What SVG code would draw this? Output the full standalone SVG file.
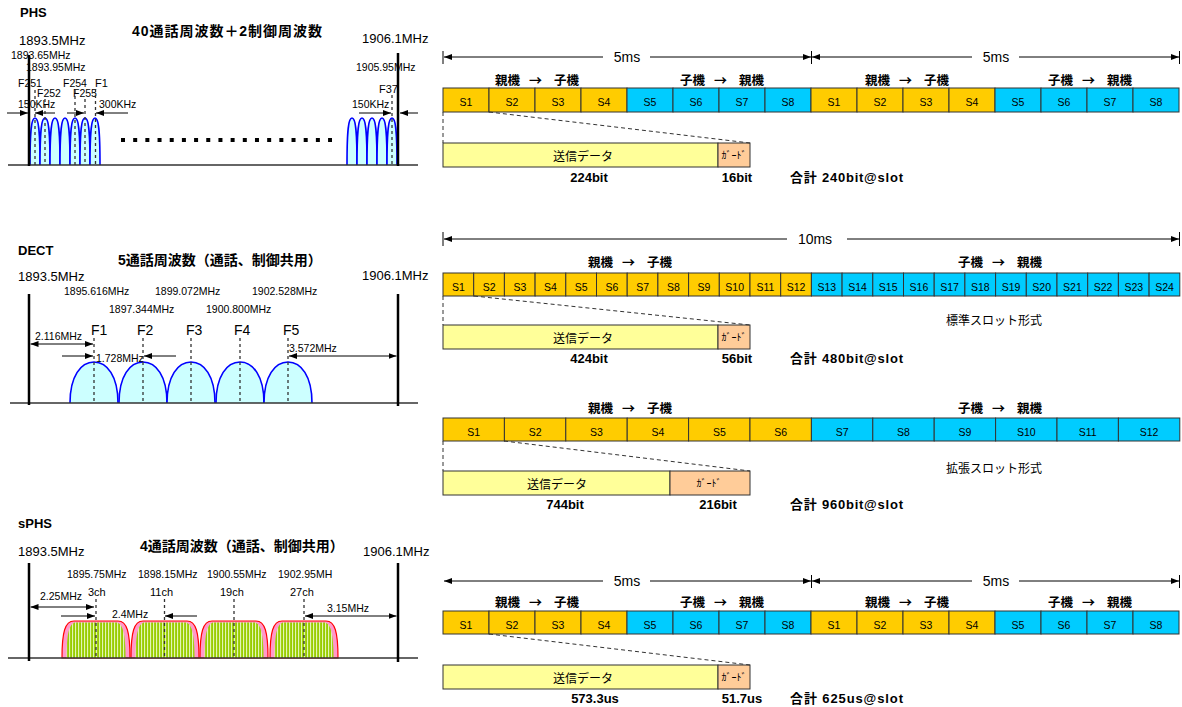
<svg xmlns="http://www.w3.org/2000/svg" width="1182" height="707" viewBox="0 0 1182 707">
<style>
text { font-family: "Liberation Sans", "Noto Sans CJK JP", sans-serif; fill: #000; }
.b { font-weight: bold; }
.mid { text-anchor: middle; }
.t14 { font-size: 14px; }
.t13 { font-size: 13px; }
.t12 { font-size: 12px; }
.sm { font-size: 10.5px; }
.fl { font-size: 11px; }
.fs { font-size: 10.5px; }
.slot { font-size: 10.5px; text-anchor: middle; }
.dir { font-size: 12.5px; font-weight: bold; }
.arr { font-family: "Noto Sans CJK JP", sans-serif; font-size: 13px; }
.bits { font-size: 13px; font-weight: bold; }
.gd { font-family: "Noto Sans CJK JP", sans-serif; font-size: 10px; text-anchor: middle; }
.o { fill: #FFCC00; stroke: #333; stroke-width: 1; }
.c { fill: #00CCFF; stroke: #333; stroke-width: 1; }
.data { fill: #FFFF99; stroke: #333; stroke-width: 1; }
.guard { fill: #FFCC99; stroke: #333; stroke-width: 1; }
.dash { stroke: #333; stroke-width: 1; stroke-dasharray: 4 3; fill: none; }
.vdash { stroke: #333; stroke-width: 1.3; stroke-dasharray: 3 3; fill: none; }
.dim { stroke: #000; stroke-width: 1; fill: none; marker-end: url(#ah); }
.dim2 { stroke: #000; stroke-width: 1; fill: none; marker-start: url(#ah); marker-end: url(#ah); }
.tick { stroke: #000; stroke-width: 1; }
.lim { stroke: #000; stroke-width: 2.5; }
.base { stroke: #333; stroke-width: 1.5; }
.hump { fill: #CCFFFF; stroke: #0000FF; stroke-width: 1.6; }
.band { fill: #FF99CC; stroke: #FF0000; stroke-width: 1.2; }
.bandin { fill: url(#stripes); stroke: none; }
</style>
<defs>
<marker id="ah" viewBox="0 0 8 6" refX="8" refY="3" markerWidth="8" markerHeight="6" markerUnits="userSpaceOnUse" orient="auto-start-reverse">
<path d="M0,0 L8,3 L0,6 z" fill="#000"/>
</marker>
<pattern id="stripes" patternUnits="userSpaceOnUse" width="3" height="10">
<rect width="3" height="10" fill="#99CC00"/>
<rect x="1.2" width="0.9" height="10" fill="#F4FFE0"/>
</pattern>
<path id="phsHump" class="hump" d="M-5,0 C-5,-36 -3.5,-47 0,-47 C3.5,-47 5,-36 5,0"/>
<path id="dectHump" class="hump" d="M-24,0 C-24,-27 -13,-41 0,-41 C13,-41 24,-27 24,0"/>
<g id="sphsBand">
<path class="band" d="M0,0 C0,-26 3,-37 12,-37 L56,-37 C65,-37 68,-26 68,0 Z"/>
<path class="bandin" d="M4.5,0 C4.5,-25 7.5,-35.5 14,-35.5 L54,-35.5 C60.5,-35.5 63.5,-25 63.5,0 Z"/>
</g>
</defs>
<rect width="1182" height="707" fill="#FFFFFF"/>

<!-- ============ PHS spectrum ============ -->
<g id="phs-spectrum">
<text class="b t13" x="20" y="17">PHS</text>
<text class="b t14 mid" x="227" y="36" textLength="190">40通話周波数＋2制御周波数</text>
<text class="t13" x="19" y="45">1893.5MHz</text>
<text class="t13" x="362" y="43">1906.1MHz</text>
<g id="phs-humps-left">
<use href="#phsHump" x="35" y="165"/>
<use href="#phsHump" x="45" y="165"/>
<use href="#phsHump" x="55" y="165"/>
<use href="#phsHump" x="65" y="165"/>
<use href="#phsHump" x="75" y="165"/>
<use href="#phsHump" x="85" y="165"/>
<use href="#phsHump" x="95" y="165"/>
</g>
<g id="phs-humps-right">
<use href="#phsHump" x="352" y="165"/>
<use href="#phsHump" x="362" y="165"/>
<use href="#phsHump" x="372" y="165"/>
<use href="#phsHump" x="382" y="165"/>
<use href="#phsHump" x="392" y="165"/>
</g>
<line class="base" x1="8" y1="165" x2="418" y2="165"/>
<line class="lim" x1="29" y1="55" x2="29" y2="166"/>
<line class="lim" x1="398" y1="53" x2="398" y2="166"/>
<line x1="121" y1="140" x2="332" y2="140" stroke="#000" stroke-width="4" stroke-dasharray="4 8.18"/>
<text class="sm" x="11" y="59">1893.65MHz</text>
<text class="sm" x="26" y="71">1893.95MHz</text>
<text class="fs" x="18" y="87">F251</text>
<text class="fs" x="37" y="97">F252</text>
<text class="fs" x="63" y="87">F254</text>
<text class="fs" x="73" y="97">F255</text>
<text class="fl" x="95" y="87">F1</text>
<text class="sm" x="18" y="108">150KHz</text>
<text class="sm" x="99" y="108">300KHz</text>
<text class="sm" x="356" y="71">1905.95MHz</text>
<text class="fl" x="379" y="93">F37</text>
<text class="sm" x="352" y="108">150KHz</text>
</g>

<!-- ============ DECT spectrum ============ -->
<g id="dect-spectrum">
<text class="b t13" x="18" y="255">DECT</text>
<text class="b t14" x="118" y="265">5通話周波数（通話、制御共用）</text>
<text class="t13" x="18" y="281">1893.5MHz</text>
<text class="t13" x="362" y="280">1906.1MHz</text>
<use href="#dectHump" x="94" y="403"/>
<use href="#dectHump" x="143" y="403"/>
<use href="#dectHump" x="191" y="403"/>
<use href="#dectHump" x="240" y="403"/>
<use href="#dectHump" x="288" y="403"/>
<line class="base" x1="10" y1="403" x2="418" y2="403"/>
<line class="lim" x1="29" y1="294" x2="29" y2="405"/>
<line class="lim" x1="398" y1="294" x2="398" y2="406"/>
<text class="sm" x="64" y="295">1895.616MHz</text>
<text class="sm" x="155" y="295">1899.072MHz</text>
<text class="sm" x="252" y="295">1902.528MHz</text>
<text class="sm" x="109" y="313">1897.344MHz</text>
<text class="sm" x="206" y="313">1900.800MHz</text>
<text class="t14" x="91" y="335">F1</text>
<text class="t14" x="137" y="335">F2</text>
<text class="t14" x="186" y="335">F3</text>
<text class="t14" x="234" y="335">F4</text>
<text class="t14" x="283" y="335">F5</text>
<text class="sm" x="35" y="340">2.116MHz</text>
<text class="sm" x="96" y="362">1.728MHz</text>
<text class="sm" x="289" y="352">3.572MHz</text>
</g>

<!-- ============ sPHS spectrum ============ -->
<g id="sphs-spectrum">
<text class="b t13" x="18" y="528">sPHS</text>
<text class="b t14" x="140" y="551">4通話周波数（通話、制御共用）</text>
<text class="t13" x="18" y="556">1893.5MHz</text>
<text class="t13" x="363" y="556">1906.1MHz</text>
<use href="#sphsBand" x="62" y="658"/>
<use href="#sphsBand" x="131" y="658"/>
<use href="#sphsBand" x="200" y="658"/>
<use href="#sphsBand" x="270" y="658"/>
<line class="base" x1="8" y1="658" x2="418" y2="658"/>
<line class="lim" x1="29" y1="563" x2="29" y2="661"/>
<line class="lim" x1="398" y1="563" x2="398" y2="662"/>
<text class="sm" x="67" y="578">1895.75MHz</text>
<text class="sm" x="138" y="578">1898.15MHz</text>
<text class="sm" x="207" y="578">1900.55MHz</text>
<text class="sm" x="278" y="578">1902.95MH</text>
<text class="fl" x="88" y="596">3ch</text>
<text class="fl" x="150" y="596">11ch</text>
<text class="fl" x="220" y="596">19ch</text>
<text class="fl" x="290" y="596">27ch</text>
<text class="sm" x="40" y="600">2.25MHz</text>
<text class="sm" x="112" y="618">2.4MHz</text>
<text class="sm" x="327" y="612">3.15MHz</text>
</g>

<!-- ============ PHS timing ============ -->
<g id="phs-timing">
<text class="t14 mid" x="627" y="62">5ms</text>
<text class="t14 mid" x="996" y="62">5ms</text>
<text class="dir" y="85"><tspan x="495">親機</tspan><tspan class="arr" x="529">→</tspan><tspan x="554">子機</tspan></text>
<text class="dir" y="85"><tspan x="680">子機</tspan><tspan class="arr" x="714">→</tspan><tspan x="739">親機</tspan></text>
<text class="dir" y="85"><tspan x="865">親機</tspan><tspan class="arr" x="899">→</tspan><tspan x="924">子機</tspan></text>
<text class="dir" y="85"><tspan x="1048">子機</tspan><tspan class="arr" x="1082">→</tspan><tspan x="1107">親機</tspan></text>
<g id="phs-f1-s1"><rect class="o" x="443" y="88" width="46" height="24"/><text class="slot" x="466" y="106">S1</text></g>
<g id="phs-f1-s2"><rect class="o" x="489" y="88" width="46" height="24"/><text class="slot" x="512" y="106">S2</text></g>
<g id="phs-f1-s3"><rect class="o" x="535" y="88" width="46" height="24"/><text class="slot" x="558" y="106">S3</text></g>
<g id="phs-f1-s4"><rect class="o" x="581" y="88" width="46" height="24"/><text class="slot" x="604" y="106">S4</text></g>
<g id="phs-f1-s5"><rect class="c" x="627" y="88" width="46" height="24"/><text class="slot" x="650" y="106">S5</text></g>
<g id="phs-f1-s6"><rect class="c" x="673" y="88" width="46" height="24"/><text class="slot" x="696" y="106">S6</text></g>
<g id="phs-f1-s7"><rect class="c" x="719" y="88" width="46" height="24"/><text class="slot" x="742" y="106">S7</text></g>
<g id="phs-f1-s8"><rect class="c" x="765" y="88" width="46" height="24"/><text class="slot" x="788" y="106">S8</text></g>
<g id="phs-f2-s1"><rect class="o" x="811" y="88" width="46" height="24"/><text class="slot" x="834" y="106">S1</text></g>
<g id="phs-f2-s2"><rect class="o" x="857" y="88" width="46" height="24"/><text class="slot" x="880" y="106">S2</text></g>
<g id="phs-f2-s3"><rect class="o" x="903" y="88" width="46" height="24"/><text class="slot" x="926" y="106">S3</text></g>
<g id="phs-f2-s4"><rect class="o" x="949" y="88" width="46" height="24"/><text class="slot" x="972" y="106">S4</text></g>
<g id="phs-f2-s5"><rect class="c" x="995" y="88" width="46" height="24"/><text class="slot" x="1018" y="106">S5</text></g>
<g id="phs-f2-s6"><rect class="c" x="1041" y="88" width="46" height="24"/><text class="slot" x="1064" y="106">S6</text></g>
<g id="phs-f2-s7"><rect class="c" x="1087" y="88" width="46" height="24"/><text class="slot" x="1110" y="106">S7</text></g>
<g id="phs-f2-s8"><rect class="c" x="1133" y="88" width="46" height="24"/><text class="slot" x="1156" y="106">S8</text></g>
<g id="phs-data"><rect class="data" x="443" y="143" width="275" height="24"/><text class="t12 mid" x="583" y="161">送信データ</text></g>
<g id="phs-guard"><rect class="guard" x="718" y="143" width="32" height="24"/><text class="gd" x="734" y="159">ｶﾞｰﾄﾞ</text></g>
<text class="bits mid" x="589" y="182">224bit</text>
<text class="bits mid" x="737" y="182">16bit</text>
<text class="bits" x="790" y="182" textLength="113">合計 240bit@slot</text>
</g>

<!-- ============ DECT timing ============ -->
<g id="dect-timing">
<text class="t14 mid" x="815" y="244">10ms</text>
<text class="dir" y="267"><tspan x="588">親機</tspan><tspan class="arr" x="622">→</tspan><tspan x="647">子機</tspan></text>
<text class="dir" y="267"><tspan x="958">子機</tspan><tspan class="arr" x="992">→</tspan><tspan x="1017">親機</tspan></text>
<g id="dect-s1"><rect class="o" x="443" y="273" width="30.7" height="23"/><text class="slot" x="458.4" y="291">S1</text></g>
<g id="dect-s2"><rect class="o" x="473.7" y="273" width="30.7" height="23"/><text class="slot" x="489.1" y="291">S2</text></g>
<g id="dect-s3"><rect class="o" x="504.4" y="273" width="30.7" height="23"/><text class="slot" x="519.8" y="291">S3</text></g>
<g id="dect-s4"><rect class="o" x="535.1" y="273" width="30.7" height="23"/><text class="slot" x="550.5" y="291">S4</text></g>
<g id="dect-s5"><rect class="o" x="565.8" y="273" width="30.7" height="23"/><text class="slot" x="581.2" y="291">S5</text></g>
<g id="dect-s6"><rect class="o" x="596.5" y="273" width="30.7" height="23"/><text class="slot" x="611.9" y="291">S6</text></g>
<g id="dect-s7"><rect class="o" x="627.2" y="273" width="30.7" height="23"/><text class="slot" x="642.6" y="291">S7</text></g>
<g id="dect-s8"><rect class="o" x="657.9" y="273" width="30.7" height="23"/><text class="slot" x="673.3" y="291">S8</text></g>
<g id="dect-s9"><rect class="o" x="688.6" y="273" width="30.7" height="23"/><text class="slot" x="704" y="291">S9</text></g>
<g id="dect-s10"><rect class="o" x="719.3" y="273" width="30.7" height="23"/><text class="slot" x="734.7" y="291">S10</text></g>
<g id="dect-s11"><rect class="o" x="750" y="273" width="30.7" height="23"/><text class="slot" x="765.4" y="291">S11</text></g>
<g id="dect-s12"><rect class="o" x="780.7" y="273" width="30.7" height="23"/><text class="slot" x="796.1" y="291">S12</text></g>
<g id="dect-s13"><rect class="c" x="811.4" y="273" width="30.7" height="23"/><text class="slot" x="826.8" y="291">S13</text></g>
<g id="dect-s14"><rect class="c" x="842.1" y="273" width="30.7" height="23"/><text class="slot" x="857.5" y="291">S14</text></g>
<g id="dect-s15"><rect class="c" x="872.8" y="273" width="30.7" height="23"/><text class="slot" x="888.2" y="291">S15</text></g>
<g id="dect-s16"><rect class="c" x="903.5" y="273" width="30.7" height="23"/><text class="slot" x="918.9" y="291">S16</text></g>
<g id="dect-s17"><rect class="c" x="934.2" y="273" width="30.7" height="23"/><text class="slot" x="949.6" y="291">S17</text></g>
<g id="dect-s18"><rect class="c" x="964.9" y="273" width="30.7" height="23"/><text class="slot" x="980.3" y="291">S18</text></g>
<g id="dect-s19"><rect class="c" x="995.6" y="273" width="30.7" height="23"/><text class="slot" x="1011" y="291">S19</text></g>
<g id="dect-s20"><rect class="c" x="1026.3" y="273" width="30.7" height="23"/><text class="slot" x="1041.7" y="291">S20</text></g>
<g id="dect-s21"><rect class="c" x="1057" y="273" width="30.7" height="23"/><text class="slot" x="1072.4" y="291">S21</text></g>
<g id="dect-s22"><rect class="c" x="1087.7" y="273" width="30.7" height="23"/><text class="slot" x="1103.1" y="291">S22</text></g>
<g id="dect-s23"><rect class="c" x="1118.4" y="273" width="30.7" height="23"/><text class="slot" x="1133.8" y="291">S23</text></g>
<g id="dect-s24"><rect class="c" x="1149.1" y="273" width="30.7" height="23"/><text class="slot" x="1164.5" y="291">S24</text></g>
<g id="dect-data"><rect class="data" x="443" y="325" width="275" height="24"/><text class="t12 mid" x="583" y="343">送信データ</text></g>
<g id="dect-guard"><rect class="guard" x="718" y="325" width="32" height="24"/><text class="gd" x="734" y="341">ｶﾞｰﾄﾞ</text></g>
<text class="bits mid" x="589" y="363">424bit</text>
<text class="bits mid" x="737" y="363">56bit</text>
<text class="bits" x="790" y="363" textLength="113">合計 480bit@slot</text>
<text class="t12 mid" x="994" y="325">標準スロット形式</text>
</g>

<!-- ============ DECT extended ============ -->
<g id="dect-ext-timing">
<text class="dir" y="413"><tspan x="588">親機</tspan><tspan class="arr" x="622">→</tspan><tspan x="647">子機</tspan></text>
<text class="dir" y="413"><tspan x="958">子機</tspan><tspan class="arr" x="992">→</tspan><tspan x="1017">親機</tspan></text>
<g id="ext-s1"><rect class="o" x="443" y="418" width="61.4" height="23"/><text class="slot" x="473.7" y="436">S1</text></g>
<g id="ext-s2"><rect class="o" x="504.4" y="418" width="61.4" height="23"/><text class="slot" x="535.1" y="436">S2</text></g>
<g id="ext-s3"><rect class="o" x="565.8" y="418" width="61.4" height="23"/><text class="slot" x="596.5" y="436">S3</text></g>
<g id="ext-s4"><rect class="o" x="627.2" y="418" width="61.4" height="23"/><text class="slot" x="657.9" y="436">S4</text></g>
<g id="ext-s5"><rect class="o" x="688.6" y="418" width="61.4" height="23"/><text class="slot" x="719.3" y="436">S5</text></g>
<g id="ext-s6"><rect class="o" x="750" y="418" width="61.4" height="23"/><text class="slot" x="780.7" y="436">S6</text></g>
<g id="ext-s7"><rect class="c" x="811.4" y="418" width="61.4" height="23"/><text class="slot" x="842.1" y="436">S7</text></g>
<g id="ext-s8"><rect class="c" x="872.8" y="418" width="61.4" height="23"/><text class="slot" x="903.5" y="436">S8</text></g>
<g id="ext-s9"><rect class="c" x="934.2" y="418" width="61.4" height="23"/><text class="slot" x="964.9" y="436">S9</text></g>
<g id="ext-s10"><rect class="c" x="995.6" y="418" width="61.4" height="23"/><text class="slot" x="1026.3" y="436">S10</text></g>
<g id="ext-s11"><rect class="c" x="1057" y="418" width="61.4" height="23"/><text class="slot" x="1087.7" y="436">S11</text></g>
<g id="ext-s12"><rect class="c" x="1118.4" y="418" width="61.4" height="23"/><text class="slot" x="1149.1" y="436">S12</text></g>
<g id="ext-data"><rect class="data" x="443" y="471" width="227" height="24"/><text class="t12 mid" x="557" y="489">送信データ</text></g>
<g id="ext-guard"><rect class="guard" x="670" y="471" width="80" height="24"/><text class="gd" x="709" y="487">ｶﾞｰﾄﾞ</text></g>
<text class="bits mid" x="565" y="509">744bit</text>
<text class="bits mid" x="718" y="509">216bit</text>
<text class="bits" x="790" y="509" textLength="113">合計 960bit@slot</text>
<text class="t12 mid" x="994" y="473">拡張スロット形式</text>
</g>

<!-- ============ sPHS timing ============ -->
<g id="sphs-timing">
<text class="t14 mid" x="627" y="586">5ms</text>
<text class="t14 mid" x="996" y="586">5ms</text>
<text class="dir" y="607"><tspan x="495">親機</tspan><tspan class="arr" x="529">→</tspan><tspan x="554">子機</tspan></text>
<text class="dir" y="607"><tspan x="680">子機</tspan><tspan class="arr" x="714">→</tspan><tspan x="739">親機</tspan></text>
<text class="dir" y="607"><tspan x="865">親機</tspan><tspan class="arr" x="899">→</tspan><tspan x="924">子機</tspan></text>
<text class="dir" y="607"><tspan x="1048">子機</tspan><tspan class="arr" x="1082">→</tspan><tspan x="1107">親機</tspan></text>
<g id="sphs-f1-s1"><rect class="o" x="443" y="611" width="46" height="23"/><text class="slot" x="466" y="629">S1</text></g>
<g id="sphs-f1-s2"><rect class="o" x="489" y="611" width="46" height="23"/><text class="slot" x="512" y="629">S2</text></g>
<g id="sphs-f1-s3"><rect class="o" x="535" y="611" width="46" height="23"/><text class="slot" x="558" y="629">S3</text></g>
<g id="sphs-f1-s4"><rect class="o" x="581" y="611" width="46" height="23"/><text class="slot" x="604" y="629">S4</text></g>
<g id="sphs-f1-s5"><rect class="c" x="627" y="611" width="46" height="23"/><text class="slot" x="650" y="629">S5</text></g>
<g id="sphs-f1-s6"><rect class="c" x="673" y="611" width="46" height="23"/><text class="slot" x="696" y="629">S6</text></g>
<g id="sphs-f1-s7"><rect class="c" x="719" y="611" width="46" height="23"/><text class="slot" x="742" y="629">S7</text></g>
<g id="sphs-f1-s8"><rect class="c" x="765" y="611" width="46" height="23"/><text class="slot" x="788" y="629">S8</text></g>
<g id="sphs-f2-s1"><rect class="o" x="811" y="611" width="46" height="23"/><text class="slot" x="834" y="629">S1</text></g>
<g id="sphs-f2-s2"><rect class="o" x="857" y="611" width="46" height="23"/><text class="slot" x="880" y="629">S2</text></g>
<g id="sphs-f2-s3"><rect class="o" x="903" y="611" width="46" height="23"/><text class="slot" x="926" y="629">S3</text></g>
<g id="sphs-f2-s4"><rect class="o" x="949" y="611" width="46" height="23"/><text class="slot" x="972" y="629">S4</text></g>
<g id="sphs-f2-s5"><rect class="c" x="995" y="611" width="46" height="23"/><text class="slot" x="1018" y="629">S5</text></g>
<g id="sphs-f2-s6"><rect class="c" x="1041" y="611" width="46" height="23"/><text class="slot" x="1064" y="629">S6</text></g>
<g id="sphs-f2-s7"><rect class="c" x="1087" y="611" width="46" height="23"/><text class="slot" x="1110" y="629">S7</text></g>
<g id="sphs-f2-s8"><rect class="c" x="1133" y="611" width="46" height="23"/><text class="slot" x="1156" y="629">S8</text></g>
<g id="sphs-data"><rect class="data" x="443" y="665" width="275" height="24"/><text class="t12 mid" x="583" y="683">送信データ</text></g>
<g id="sphs-guard"><rect class="guard" x="718" y="665" width="32" height="24"/><text class="gd" x="734" y="681">ｶﾞｰﾄﾞ</text></g>
<text class="bits mid" x="595" y="703">573.3us</text>
<text class="bits mid" x="742" y="703">51.7us</text>
<text class="bits" x="790" y="703" textLength="113">合計 625us@slot</text>
</g>

<!-- ============ connectors ============ -->
<g id="connectors">
<line class="dim" x1="7" y1="113" x2="28" y2="113"/>
<line class="dim" x1="55" y1="113" x2="35" y2="113"/>
<line class="dim" x1="67" y1="113" x2="84" y2="113"/>
<line class="dim" x1="128" y1="113" x2="96" y2="113"/>
<line class="dim" x1="359" y1="113" x2="391" y2="113"/>
<line class="dim" x1="418" y1="113" x2="400" y2="113"/>
<line class="vdash" x1="35" y1="90" x2="35" y2="165"/>
<line class="vdash" x1="45" y1="99" x2="45" y2="165"/>
<line class="vdash" x1="75" y1="90" x2="75" y2="165"/>
<line class="vdash" x1="85" y1="99" x2="85" y2="165"/>
<line class="vdash" x1="95.5" y1="89" x2="95.5" y2="165"/>
<line class="vdash" x1="392" y1="95" x2="392" y2="165"/>
<line class="vdash" x1="94" y1="338" x2="94" y2="403"/>
<line class="vdash" x1="143" y1="338" x2="143" y2="403"/>
<line class="vdash" x1="191" y1="338" x2="191" y2="403"/>
<line class="vdash" x1="240" y1="338" x2="240" y2="403"/>
<line class="vdash" x1="288" y1="338" x2="288" y2="403"/>
<line class="dim2" x1="30.5" y1="344" x2="93" y2="344"/>
<line class="dim" x1="62" y1="356" x2="93" y2="356"/>
<line class="dim" x1="176" y1="356" x2="144" y2="356"/>
<line class="dim2" x1="289" y1="356" x2="396.5" y2="356"/>
<line class="vdash" x1="96" y1="599" x2="96" y2="658"/>
<line class="vdash" x1="164.5" y1="599" x2="164.5" y2="658"/>
<line class="vdash" x1="234" y1="599" x2="234" y2="658"/>
<line class="vdash" x1="304" y1="599" x2="304" y2="658"/>
<line class="dim2" x1="30.5" y1="607" x2="94" y2="607"/>
<line class="dim" x1="61" y1="616" x2="95" y2="616"/>
<line class="dim" x1="197" y1="616" x2="165" y2="616"/>
<line class="dim2" x1="305" y1="616" x2="396.5" y2="616"/>
<line class="tick" x1="443" y1="51" x2="443" y2="64"/>
<line class="tick" x1="811.5" y1="51" x2="811.5" y2="64"/>
<line class="tick" x1="1179.5" y1="51" x2="1179.5" y2="64"/>
<line class="dim" x1="603" y1="57" x2="444" y2="57"/>
<line class="dim" x1="650" y1="57" x2="811" y2="57"/>
<line class="dim" x1="972" y1="57" x2="812" y2="57"/>
<line class="dim" x1="1019" y1="57" x2="1179" y2="57"/>
<path class="dash" d="M443,112 L443,143"/>
<path class="dash" d="M489,112 L750,143"/>
<line class="tick" x1="443" y1="232" x2="443" y2="246"/>
<line class="tick" x1="1179.5" y1="232" x2="1179.5" y2="246"/>
<line class="dim" x1="787" y1="239" x2="444" y2="239"/>
<line class="dim" x1="847" y1="239" x2="1179" y2="239"/>
<path class="dash" d="M443,296 L443,325"/>
<path class="dash" d="M474,296 L750,325"/>
<path class="dash" d="M443,441 L443,471"/>
<path class="dash" d="M504,441 L750,471"/>
<line class="tick" x1="811.5" y1="575" x2="811.5" y2="588"/>
<line class="tick" x1="1179.5" y1="575" x2="1179.5" y2="588"/>
<line class="dim" x1="603" y1="581" x2="444" y2="581"/>
<line class="dim" x1="650" y1="581" x2="811" y2="581"/>
<line class="dim" x1="972" y1="581" x2="812" y2="581"/>
<line class="dim" x1="1019" y1="581" x2="1179" y2="581"/>
<path class="dash" d="M489,634 L750,665"/>
</g>
</svg>
